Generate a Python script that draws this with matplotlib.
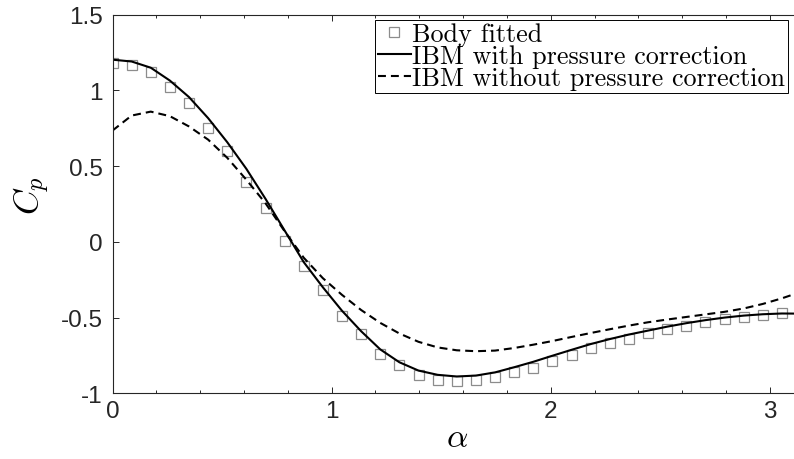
"""
Pressure coefficient around the cylinder: body fitted reference vs IBM with / without pressure correction.
"""
import matplotlib
matplotlib.use("Agg")
import matplotlib.pyplot as plt
import numpy as np
from matplotlib.ticker import FixedLocator, MultipleLocator

# surface angle, 5 degree steps from 0 to 180
angle_deg = list(range(0, 181, 5))

body_fitted = [
    1.18, 1.165, 1.12, 1.02, 0.915, 0.75, 0.60, 0.395, 0.225, 0.005,
    -0.16, -0.315, -0.49, -0.61, -0.74, -0.81, -0.88, -0.91, -0.92, -0.91,
    -0.895, -0.86, -0.83, -0.785, -0.745, -0.70, -0.665, -0.64, -0.60, -0.577,
    -0.553, -0.53, -0.51, -0.493, -0.48, -0.473, -0.47,
]
ibm_with = [
    1.203, 1.191, 1.150, 1.065, 0.956, 0.817, 0.658, 0.482, 0.284, 0.075,
    -0.134, -0.30, -0.455, -0.59, -0.71, -0.795, -0.85, -0.878, -0.889, -0.883,
    -0.862, -0.828, -0.792, -0.752, -0.713, -0.675, -0.642, -0.612, -0.586, -0.56,
    -0.537, -0.517, -0.500, -0.487, -0.478, -0.473, -0.474,
]
ibm_without = [
    0.735, 0.834, 0.860, 0.830, 0.762, 0.675, 0.555, 0.410, 0.255, 0.070,
    -0.105, -0.24, -0.35, -0.45, -0.535, -0.605, -0.66, -0.697, -0.716, -0.722,
    -0.718, -0.701, -0.679, -0.655, -0.628, -0.602, -0.577, -0.553, -0.531, -0.513,
    -0.496, -0.479, -0.462, -0.440, -0.410, -0.373, -0.330,
]

x_ticks = [0, 1, 2, 3]
x_tick_labels = ["0", "1", "2", "3"]
y_ticks = [-1, -0.5, 0, 0.5, 1, 1.5]
y_tick_labels = ["-1", "-0.5", "0", "0.5", "1", "1.5"]

plt.rcParams["mathtext.fontset"] = "cm"
plt.rcParams["axes.unicode_minus"] = False

W, H = 794, 460
fig = plt.figure(figsize=(W / 100, H / 100), dpi=100)
# axes box in pixels (right edge runs just past the figure, as in the original)
x0, x1, y_top, y_bot = 112.5, 801.0, 15.7, 394.3
ax = fig.add_axes([x0 / W, 1 - y_bot / H, (x1 - x0) / W, (y_bot - y_top) / H])

alpha = np.deg2rad(angle_deg)
ax.plot(alpha, body_fitted, ls="none", marker="s", ms=6.8, mfc="none", mec="#8c8c8c", mew=0.9,
        label="Body fitted")
ax.plot(alpha, ibm_with, color="black", lw=1.5, label="IBM with pressure correction")
ax.plot(alpha, ibm_without, color="black", lw=1.5, ls=(0, (3.8, 2.4)),
        label="IBM without pressure correction")

ax.set_xlim(0, np.pi)
ax.set_ylim(-1, 1.5)

axis_col = "#262626"
ax.xaxis.set_major_locator(FixedLocator(x_ticks))
ax.set_xticklabels(x_tick_labels)
ax.xaxis.set_minor_locator(MultipleLocator(0.2))
ax.yaxis.set_major_locator(FixedLocator(y_ticks))
ax.set_yticklabels(y_tick_labels)
ax.tick_params(which="both", direction="in", top=True, right=True, color=axis_col, width=0.7)
ax.tick_params(which="major", length=4.5, labelsize=17.5, labelcolor=axis_col)
ax.tick_params(axis="y", which="major", pad=7)
ax.tick_params(axis="x", which="major", pad=5)
ax.tick_params(which="minor", length=2.5)
for lab in ax.get_xticklabels() + ax.get_yticklabels():
    lab.set_family("Liberation Sans")
for sp in ax.spines.values():
    sp.set_color(axis_col)
    sp.set_linewidth(0.8)

ax.set_xlabel(r"$\alpha$", fontsize=24, va="center")
ax.xaxis.set_label_coords(0.5, -0.113)
ax.set_ylabel(r"$C_p$", fontsize=25, va="center")
ax.yaxis.set_label_coords(-0.117, 0.526)

leg = ax.legend(
    loc="upper right", bbox_to_anchor=(788 / W, 1 - 20.5 / H), bbox_transform=fig.transFigure,
    borderaxespad=0, prop={"family": "cmr10", "size": 18.8}, frameon=True, fancybox=False,
    edgecolor="black", framealpha=1, handlelength=1.25, handletextpad=0.05, labelspacing=-0.08,
    borderpad=0.12,
)
leg.get_frame().set_linewidth(0.7)

fig.savefig("out.png", dpi=100)
